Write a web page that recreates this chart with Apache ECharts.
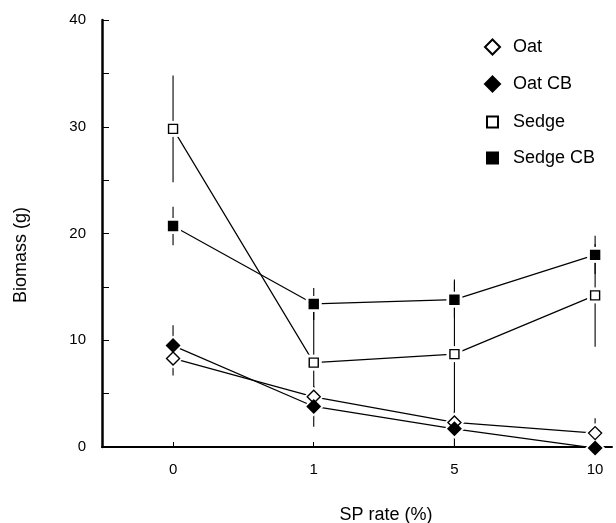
<!DOCTYPE html>
<html>
<head>
<meta charset="utf-8">
<script src="https://cdn.jsdelivr.net/npm/echarts@6/dist/echarts.min.js"></script>
<style>
html,body{margin:0;padding:0;background:#fff;}
#chart{width:616px;height:523px;}
</style>
</head>
<body>
<div id="chart"></div>
<script>
// ---- data ----
var categories = ['0', '1', '5', '10'];
var oat        = [8.3, 4.7, 2.3, 1.3];
var oatErr     = [1.6, 1.0, 0.5, 1.4];
var oatCB      = [9.5, 3.8, 1.7, -0.1];
var oatCBErr   = [1.9, 1.9, 1.7, 0.0];
var sedge      = [29.8, 7.9, 8.7, 14.2];
var sedgeErr   = [5.0, 5.0, 7.0, 4.8];
var sedgeCB    = [20.7, 13.4, 13.8, 18.0];
var sedgeCBErr = [1.8, 1.5, 1.7, 1.8];
var yTicks     = [0, 10, 20, 30, 40];

var FONT = '"Liberation Sans", Arial, sans-serif';

function pairs(vals) { return vals.map(function (v, i) { return [i, v]; }); }
function errData(vals, errs) { return vals.map(function (v, i) { return [i, v - errs[i], v + errs[i]]; }); }

var defs = [
  { name: 'Oat',      vals: oat,     errs: oatErr,     symbol: 'diamond', size: 13, fill: '#fff' },
  { name: 'Oat CB',   vals: oatCB,   errs: oatCBErr,   symbol: 'diamond', size: 13, fill: '#000' },
  { name: 'Sedge',    vals: sedge,   errs: sedgeErr,   symbol: 'rect',    size: 9,  fill: '#fff' },
  { name: 'Sedge CB', vals: sedgeCB, errs: sedgeCBErr, symbol: 'rect',    size: 9,  fill: '#000' }
];

var series = [];
defs.forEach(function (d) {
  series.push({
    type: 'line', name: d.name + '_line', data: pairs(d.vals), symbol: 'none',
    lineStyle: { color: '#000', width: 1.2 }, z: 2, clip: false, silent: true, animation: false
  });
  series.push({
    type: 'custom', name: d.name + '_err', data: errData(d.vals, d.errs), z: 2, clip: false,
    silent: true, animation: false,
    renderItem: function (params, api) {
      var lo = api.coord([api.value(0), api.value(1)]);
      var hi = api.coord([api.value(0), api.value(2)]);
      return { type: 'line', shape: { x1: lo[0], y1: lo[1], x2: hi[0], y2: hi[1] },
               style: { stroke: '#000', lineWidth: 1.1 } };
    }
  });
});
defs.forEach(function (d) {
  series.push({
    type: 'scatter', name: d.name + '_halo', data: pairs(d.vals), symbol: d.symbol,
    symbolSize: d.size + 7, itemStyle: { color: '#fff', opacity: 1 }, z: 3, clip: false, silent: true, animation: false
  });
});
defs.forEach(function (d) {
  series.push({
    type: 'scatter', name: d.name, data: pairs(d.vals), symbol: d.symbol, symbolSize: d.size,
    itemStyle: { color: d.fill, borderColor: '#000', borderWidth: 1.4, opacity: 1 }, z: 4, clip: false, animation: false
  });
});

var legendText1 = { fontFamily: FONT, fontSize: 18, lineHeight: 18, color: '#000', padding: [0, 0, 0, 8] };
var legendText2 = { fontFamily: FONT, fontSize: 18, lineHeight: 18, color: '#000', padding: [0, 0, 0, 10] };

var option = {
  backgroundColor: '#fff',
  animation: false,
  grid: { left: 102, right: 4, top: 20, bottom: 76 },
  legend: [
    { data: ['Oat', 'Oat CB'], orient: 'vertical', left: 479, top: 33, itemWidth: 15, itemHeight: 15,
      itemGap: 19, textStyle: legendText1, selectedMode: false },
    { data: ['Sedge', 'Sedge CB'], orient: 'vertical', left: 481, top: 108, itemWidth: 11, itemHeight: 11,
      itemGap: 18, textStyle: legendText2, selectedMode: false }
  ],
  xAxis: {
    type: 'value', min: -0.505, max: 3.12,
    splitLine: { show: false },
    axisLine: { show: true, onZero: false, lineStyle: { color: '#000', width: 2 } },
    axisTick: { show: true, inside: true, length: 5, customValues: [0, 1, 2, 3], lineStyle: { color: '#000', width: 1 } },
    axisLabel: { customValues: [0, 1, 2, 3], margin: 15, fontFamily: FONT, fontSize: 15, color: '#000',
      formatter: function (v) { return categories[Math.round(v)]; } }
  },
  yAxis: {
    type: 'value', min: 0, max: 40, interval: 5,
    splitLine: { show: false },
    axisLine: { show: true, onZero: false, lineStyle: { color: '#000', width: 2.5 } },
    axisTick: { show: true, inside: true, length: 7, lineStyle: { color: '#000', width: 1 } },
    axisLabel: { margin: 16, fontFamily: FONT, fontSize: 15, color: '#000',
      formatter: function (v) { return yTicks.indexOf(v) >= 0 ? String(v) : ''; } }
  },
  graphic: [
    { type: 'text', x: 386, y: 515, style: { text: 'SP rate (%)', font: '18px ' + FONT, fill: '#000',
      textAlign: 'center', textVerticalAlign: 'middle' } },
    { type: 'text', x: 21, y: 255, rotation: Math.PI / 2, style: { text: 'Biomass (g)', font: '18px ' + FONT,
      fill: '#000', textAlign: 'center', textVerticalAlign: 'middle' } }
  ],
  series: series
};

var chart = echarts.init(document.getElementById('chart'), null, { renderer: 'canvas' });
chart.setOption(option);
</script>
</body>
</html>
